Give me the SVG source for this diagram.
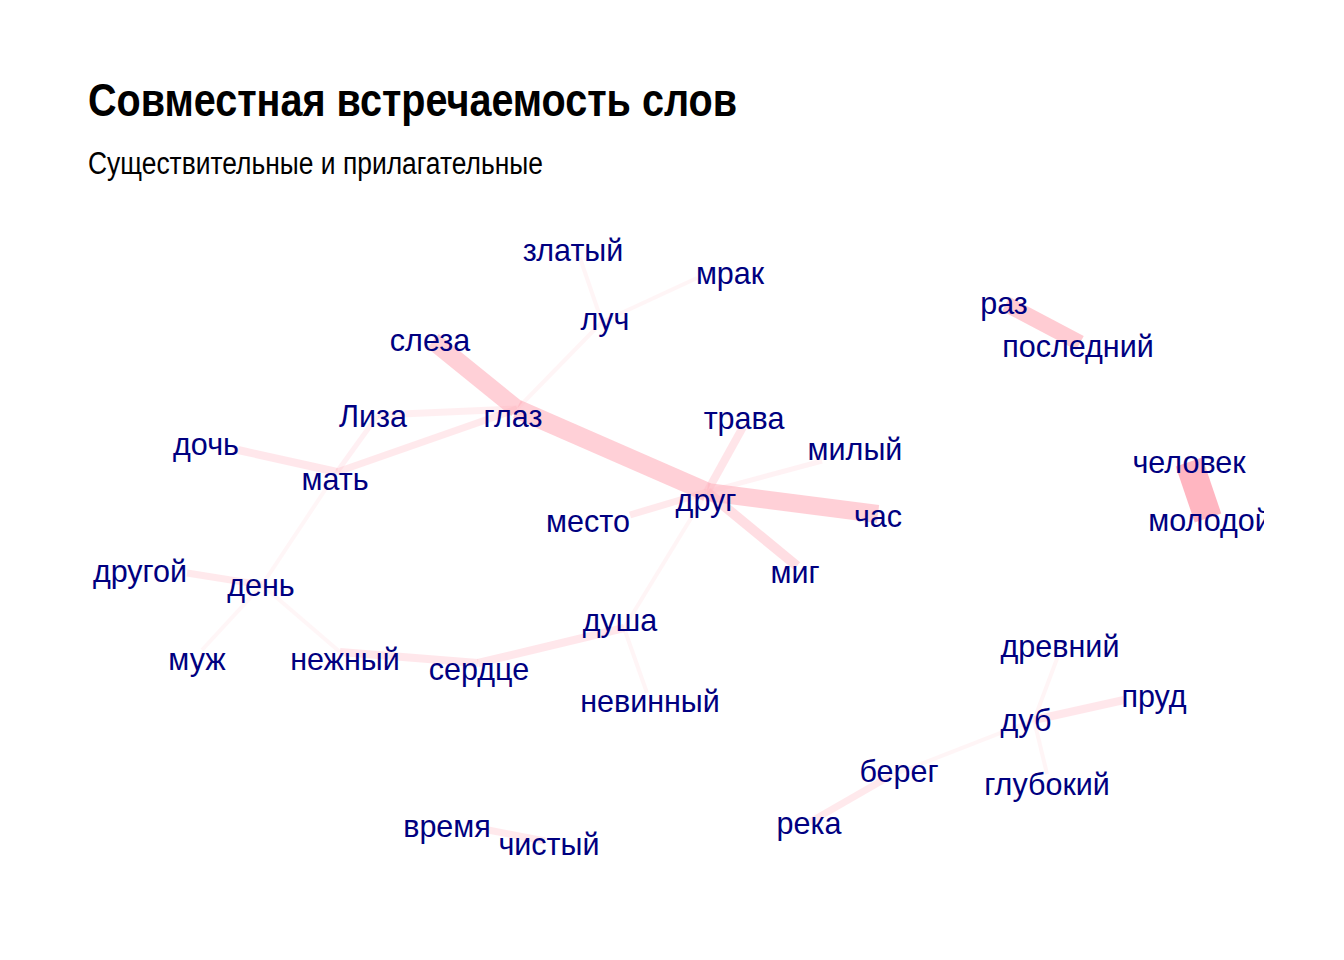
<svg xmlns="http://www.w3.org/2000/svg" width="1344" height="960" viewBox="0 0 1344 960">
<style>
.e{stroke:#FFB6C1;stroke-linecap:butt;fill:none}
.l{font-family:"Liberation Sans",Arial,sans-serif;font-size:30.5px;fill:#000080;text-anchor:middle}
.t{font-family:"Liberation Sans",Arial,sans-serif;font-weight:bold;font-size:47px;fill:#000}
.s{font-family:"Liberation Sans",Arial,sans-serif;font-size:31px;fill:#000}
</style>
<defs>
<clipPath id="panel"><rect x="0" y="190" width="1264" height="720"/></clipPath>
</defs>
<rect width="1344" height="960" fill="#fff"/>
<text class="t" x="88" y="116" textLength="649" lengthAdjust="spacingAndGlyphs">Совместная встречаемость слов</text>
<text class="s" x="88" y="174" textLength="455" lengthAdjust="spacingAndGlyphs">Существительные и прилагательные</text>
<g clip-path="url(#panel)">
<g id="edges">
<line class="e" x1="1189" y1="462" x2="1208" y2="518" stroke-width="28" stroke-opacity="1"/>
<line class="e" x1="1006" y1="304" x2="1080" y2="343" stroke-width="16" stroke-opacity="0.7"/>
<line class="e" x1="433" y1="341" x2="517" y2="409" stroke-width="18" stroke-opacity="0.64"/>
<line class="e" x1="517" y1="409" x2="707" y2="492" stroke-width="19" stroke-opacity="0.64"/>
<line class="e" x1="707" y1="492" x2="878" y2="514" stroke-width="18" stroke-opacity="0.64"/>
<line class="e" x1="707" y1="492" x2="797" y2="566" stroke-width="10" stroke-opacity="0.45"/>
<line class="e" x1="707" y1="492" x2="743" y2="427" stroke-width="8" stroke-opacity="0.36"/>
<line class="e" x1="707" y1="492" x2="630" y2="515" stroke-width="7" stroke-opacity="0.3"/>
<line class="e" x1="707" y1="492" x2="822" y2="461" stroke-width="5" stroke-opacity="0.18"/>
<line class="e" x1="707" y1="492" x2="624" y2="628" stroke-width="4" stroke-opacity="0.14"/>
<line class="e" x1="517" y1="409" x2="378" y2="415" stroke-width="7" stroke-opacity="0.22"/>
<line class="e" x1="517" y1="409" x2="337" y2="472" stroke-width="7" stroke-opacity="0.3"/>
<line class="e" x1="517" y1="409" x2="602" y2="322" stroke-width="4" stroke-opacity="0.14"/>
<line class="e" x1="602" y1="322" x2="580" y2="258" stroke-width="4" stroke-opacity="0.14"/>
<line class="e" x1="602" y1="322" x2="697" y2="278" stroke-width="4" stroke-opacity="0.14"/>
<line class="e" x1="378" y1="415" x2="337" y2="472" stroke-width="5" stroke-opacity="0.2"/>
<line class="e" x1="238" y1="450" x2="337" y2="472" stroke-width="8" stroke-opacity="0.33"/>
<line class="e" x1="337" y1="472" x2="262" y2="585" stroke-width="4" stroke-opacity="0.12"/>
<line class="e" x1="187" y1="573" x2="262" y2="585" stroke-width="7" stroke-opacity="0.3"/>
<line class="e" x1="262" y1="585" x2="202" y2="650" stroke-width="4" stroke-opacity="0.12"/>
<line class="e" x1="262" y1="585" x2="340" y2="652" stroke-width="4" stroke-opacity="0.12"/>
<line class="e" x1="340" y1="652" x2="478" y2="663" stroke-width="8" stroke-opacity="0.33"/>
<line class="e" x1="478" y1="663" x2="624" y2="628" stroke-width="8" stroke-opacity="0.33"/>
<line class="e" x1="624" y1="628" x2="647" y2="693" stroke-width="4" stroke-opacity="0.14"/>
<line class="e" x1="1034" y1="720" x2="1124" y2="700" stroke-width="8" stroke-opacity="0.33"/>
<line class="e" x1="1034" y1="720" x2="1058" y2="656" stroke-width="4" stroke-opacity="0.14"/>
<line class="e" x1="1034" y1="720" x2="1047" y2="774" stroke-width="4" stroke-opacity="0.14"/>
<line class="e" x1="1034" y1="720" x2="890" y2="776" stroke-width="4" stroke-opacity="0.14"/>
<line class="e" x1="890" y1="776" x2="810" y2="822" stroke-width="7" stroke-opacity="0.3"/>
<line class="e" x1="488" y1="830" x2="545" y2="841" stroke-width="7" stroke-opacity="0.3"/>
</g>
<g id="n-zlatyi"><text class="l" x="573" y="261">златый</text></g>
<g id="n-mrak"><text class="l" x="730" y="284">мрак</text></g>
<g id="n-luch"><text class="l" x="605" y="330">луч</text></g>
<g id="n-sleza"><text class="l" x="430" y="351">слеза</text></g>
<g id="n-raz"><text class="l" x="1004" y="314">раз</text></g>
<g id="n-posledniy"><text class="l" x="1078" y="357">последний</text></g>
<g id="n-liza"><text class="l" x="373" y="427">Лиза</text></g>
<g id="n-glaz"><text class="l" x="513" y="427">глаз</text></g>
<g id="n-trava"><text class="l" x="744" y="429">трава</text></g>
<g id="n-doch"><text class="l" x="206" y="455">дочь</text></g>
<g id="n-milyi"><text class="l" x="855" y="460">милый</text></g>
<g id="n-mat"><text class="l" x="335" y="490">мать</text></g>
<g id="n-chelovek"><text class="l" x="1189" y="473">человек</text></g>
<g id="n-drug"><text class="l" x="706" y="511">друг</text></g>
<g id="n-chas"><text class="l" x="878" y="527">час</text></g>
<g id="n-mesto"><text class="l" x="588" y="532">место</text></g>
<g id="n-molodoi"><text class="l" x="1210" y="531">молодой</text></g>
<g id="n-mig"><text class="l" x="795" y="583">миг</text></g>
<g id="n-drugoi"><text class="l" x="140" y="582">другой</text></g>
<g id="n-den"><text class="l" x="261" y="596">день</text></g>
<g id="n-dusha"><text class="l" x="620" y="631">душа</text></g>
<g id="n-drevniy"><text class="l" x="1060" y="657">древний</text></g>
<g id="n-muzh"><text class="l" x="197" y="670">муж</text></g>
<g id="n-nezhnyi"><text class="l" x="345" y="670">нежный</text></g>
<g id="n-serdce"><text class="l" x="479" y="680">сердце</text></g>
<g id="n-prud"><text class="l" x="1154" y="707">пруд</text></g>
<g id="n-nevinnyi"><text class="l" x="650" y="712">невинный</text></g>
<g id="n-dub"><text class="l" x="1026" y="731">дуб</text></g>
<g id="n-bereg"><text class="l" x="899" y="782">берег</text></g>
<g id="n-glubokiy"><text class="l" x="1047" y="795">глубокий</text></g>
<g id="n-reka"><text class="l" x="809" y="834">река</text></g>
<g id="n-vremya"><text class="l" x="447" y="837">время</text></g>
<g id="n-chistyi"><text class="l" x="549" y="855">чистый</text></g>
</g>
</svg>
